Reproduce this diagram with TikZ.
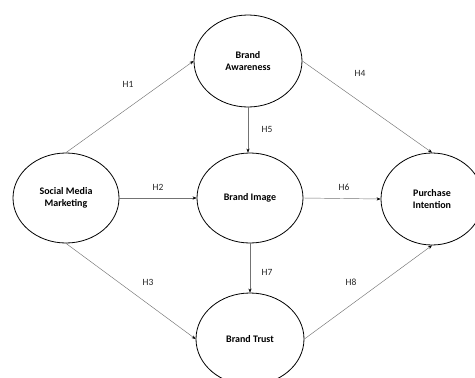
\documentclass[tikz,border=0pt]{standalone}
\usepackage{fontspec}
\setmainfont{Carlito}
\usetikzlibrary{shapes.geometric,arrows.meta}
\tikzset{
  construct/.style={ellipse, draw=black, line width=0.8pt, inner sep=0pt, align=center, font=\fontsize{10}{12}\selectfont\bfseries},
  path/.style={draw=black!55, line width=0.45pt, -{Stealth[length=4pt,width=3.2pt,black]}},
  hlabel/.style={font=\fontsize{9.5}{11}\selectfont, text=black!85}
}
\begin{document}
\begin{tikzpicture}[x=1pt,y=-1pt]
\useasboundingbox (0,0) rectangle (475,378);
\clip (0,0) rectangle (475,378);
\node[construct, minimum width=106pt, minimum height=90pt] (smm) at (66,198) {Social Media\\Marketing};
\node[construct, minimum width=108pt, minimum height=92pt] (ba) at (248,61) {Brand\\Awareness};
\node[construct, minimum width=106pt, minimum height=90pt] (bi) at (250,198) {Brand Image};
\node[construct, minimum width=108pt, minimum height=92pt] (bt) at (250,339) {Brand Trust};
\node[construct, minimum width=102pt, minimum height=92pt] (pi) at (432,199) {Purchase\\Intention};
\draw[path] (smm.north) -- (ba.west);
\draw[path] (smm.east) -- (bi.west);
\draw[path] (smm.south) -- (bt.west);
\draw[path] (ba.east) -- (pi.north);
\draw[path] (ba.south) -- (ba.south |- bi.north);
\draw[path] (bi.east) -- (pi.west);
\draw[path] (bi.south) -- (bt.north);
\draw[path] (bt.east) -- (pi.south);
\node[hlabel] (h1) at (128,84) {H1};
\node[hlabel] (h2) at (158,187) {H2};
\node[hlabel] (h3) at (148,282) {H3};
\node[hlabel] (h4) at (360,73) {H4};
\node[hlabel] (h5) at (267,129) {H5};
\node[hlabel] (h6) at (344,187) {H6};
\node[hlabel] (h7) at (267,272) {H7};
\node[hlabel] (h8) at (351,282) {H8};
\end{tikzpicture}
\end{document}
